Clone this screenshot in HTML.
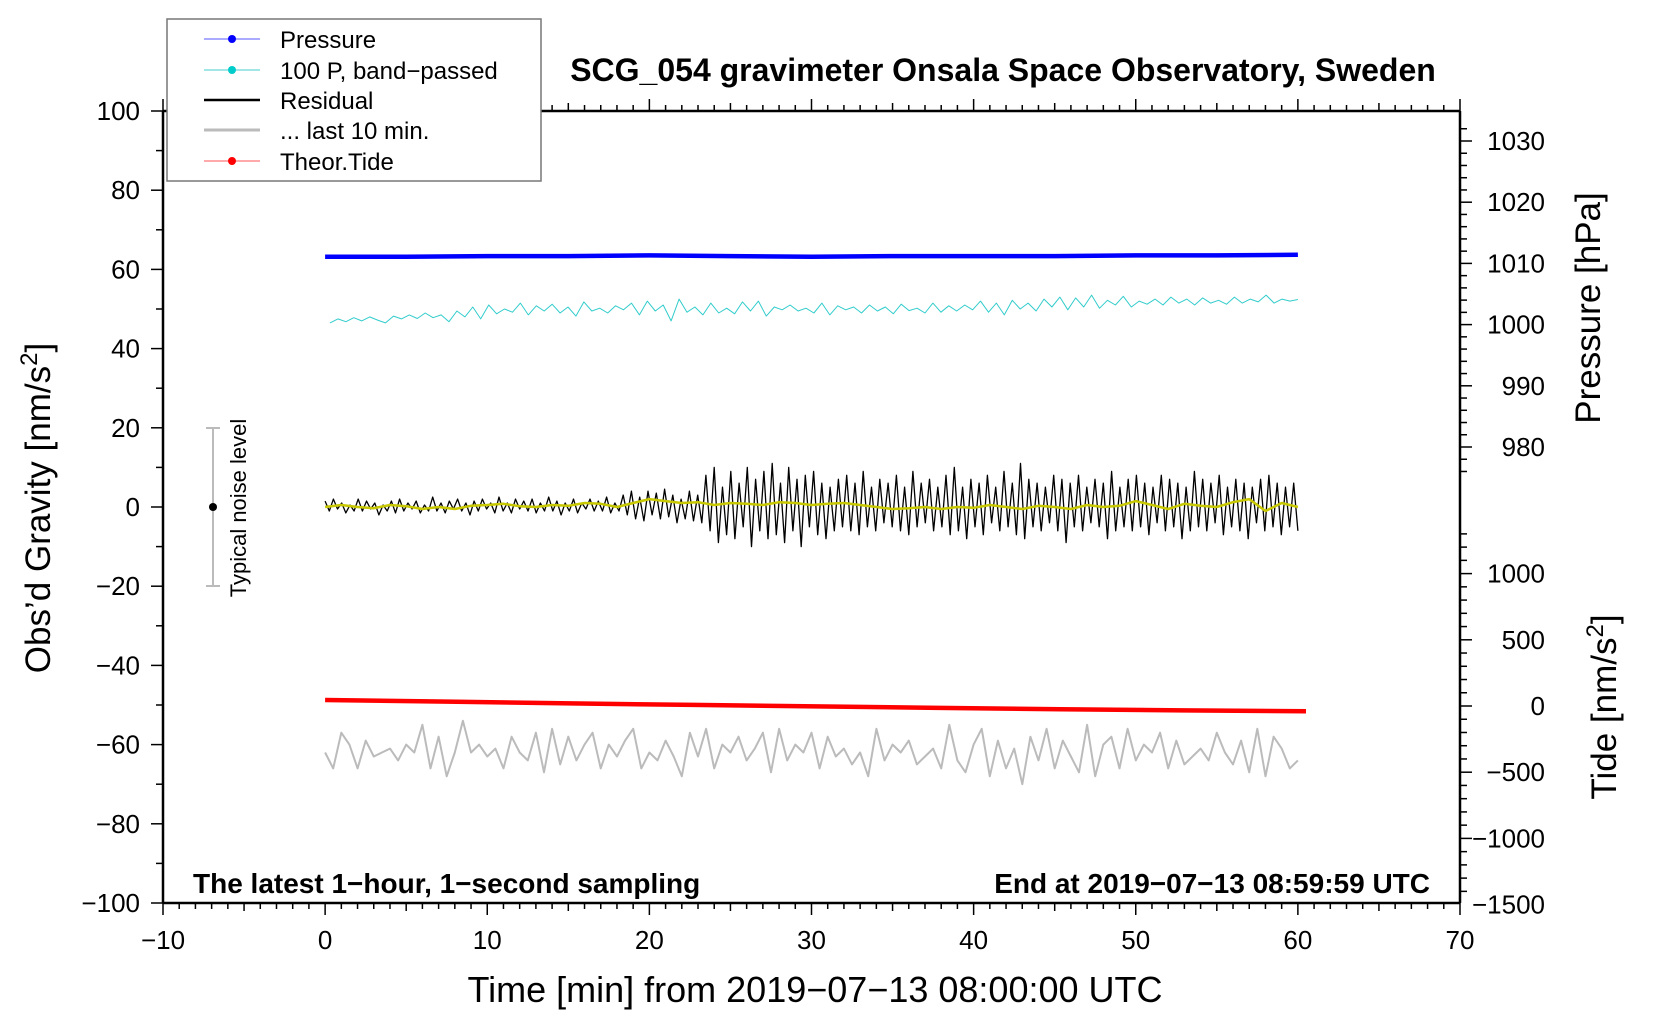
<!DOCTYPE html>
<html><head><meta charset="utf-8"><style>
html,body{margin:0;padding:0;background:#fff;}
svg{display:block;font-family:"Liberation Sans",sans-serif;}
</style></head><body>
<svg id="chart" width="1660" height="1020" viewBox="0 0 1660 1020">
<rect width="1660" height="1020" fill="#fff"/>
<g id="axes"></g>
<g id="series"></g>
<text x="1003" y="81" font-size="32" font-weight="bold" text-anchor="middle">SCG_054 gravimeter Onsala Space Observatory, Sweden</text>
<text x="193" y="893" font-size="28" font-weight="bold">The latest 1−hour, 1−second sampling</text>
<text x="1430" y="893" font-size="28" font-weight="bold" text-anchor="end">End at 2019−07−13 08:59:59 UTC</text>
<text x="815" y="1002" font-size="36" text-anchor="middle">Time [min] from 2019−07−13 08:00:00 UTC</text>
<text transform="translate(50,508) rotate(-90)" font-size="35" text-anchor="middle">Obs’d Gravity [nm/s<tspan dy="-13" font-size="24">2</tspan><tspan dy="13">]</tspan></text>
<text transform="translate(1600,308) rotate(-90)" font-size="35" text-anchor="middle">Pressure [hPa]</text>
<text transform="translate(1616,707) rotate(-90)" font-size="35" text-anchor="middle">Tide [nm/s<tspan dy="-13" font-size="24">2</tspan><tspan dy="13">]</tspan></text>
<g>
<line x1="213" y1="428" x2="213" y2="586" stroke="#bbb" stroke-width="2"/>
<line x1="206" y1="428" x2="220" y2="428" stroke="#bbb" stroke-width="2"/>
<line x1="206" y1="586" x2="220" y2="586" stroke="#bbb" stroke-width="2"/>
<circle cx="213" cy="507" r="4" fill="#000"/>
<text transform="translate(246,508) rotate(-90)" font-size="22" text-anchor="middle">Typical noise level</text>
</g>
<g>
<rect x="167" y="19" width="374" height="162" fill="#fff" stroke="#777" stroke-width="1.5"/>
<g><line x1="204" y1="39" x2="260" y2="39" stroke="#55f" stroke-width="1"/><circle cx="232" cy="39" r="4" fill="#00f"/><text x="280" y="48" font-size="24">Pressure</text></g>
<g><line x1="204" y1="70" x2="260" y2="70" stroke="#4cc" stroke-width="1"/><circle cx="232" cy="70" r="4" fill="#0cc"/><text x="280" y="79" font-size="24">100 P, band−passed</text></g>
<g><line x1="204" y1="100" x2="260" y2="100" stroke="#000" stroke-width="2.5"/><text x="280" y="109" font-size="24">Residual</text></g>
<g><line x1="204" y1="130" x2="260" y2="130" stroke="#bbb" stroke-width="3"/><text x="280" y="139" font-size="24">... last 10 min.</text></g>
<g><line x1="204" y1="161" x2="260" y2="161" stroke="#f55" stroke-width="1"/><circle cx="232" cy="161" r="4" fill="#f00"/><text x="280" y="170" font-size="24">Theor.Tide</text></g>
</g>
</svg>
<script>
const pressure=[1011.1,1011.1,1011.2,1011.2,1011.3,1011.2,1011.1,1011.2,1011.2,1011.2,1011.3,1011.3,1011.4];
const bandpassed=[46.5,47.5,46.8,47.8,47,48,47.2,46.5,48.2,47.5,48.5,47.6,49,47.8,48.5,46.8,49.5,48,50.5,47.5,51,48.8,50,49.2,51.5,48.5,50.8,49.5,51.2,49,50.5,48.2,51.8,49.5,50.2,49,50.8,49.8,51.5,48.5,52,49.5,51,47,52.5,49.2,50.5,48.5,51.5,49,50.2,48.8,51.8,49.5,52,48.2,50.5,49.8,51,49.5,50.2,49,51.5,48.5,50.8,49.8,50.5,49,51,49.5,50.5,48.8,51.2,49.6,50.2,49,51.5,49.2,50.8,49.5,51,49.8,52,49.2,51.5,48.5,52.2,50,51.5,49.5,52.5,50.5,53,49.8,52.8,50.5,53.5,50.2,52.2,51,53.2,50.5,52,51.2,52.5,51,53,51.5,52.5,51,52.8,51.5,52.2,51.2,53,51.5,52.5,51.8,53.5,51.5,52.5,52,52.4];
const residual=[1.5,-1,2,-0.5,1,-1.5,0.5,-1,2,-1,1.5,-0.5,1,-2,0.5,-1,1.5,-1.5,2,-1,1,-0.5,1.5,-1.5,0.5,-1,2.5,-1,1,-1.5,1.5,-0.5,2,-1,1,-2,1.5,-1,2,-0.5,1,-1.5,2.5,-1,1,-1.5,2,-0.5,1.5,-1,2,-1.5,1,-1,2.5,-1,1.5,-2,1,-1,2,-1.5,1,-0.5,2,-1,1.5,-1,2.5,-1.5,1,-1,
3,-2,4,-3,2.5,-3.5,4,-2,3.5,-3,4.5,-2.5,3,-4,2,-3,4,-3.5,3,-4,
8,-6,10,-9,5,-7,9,-8,6,-5,10,-10,7,-6,9,-8,11,-7,6,-9,10,-6,7,-10,8,-5,9,-7,6,-8,5,-6,7,-5,8,-6,6,-7,9,-5,5,-6,7,-4,6,-5,8,-6,5,-7,9,-5,6,-4,7,-6,5,-5,8,-7,10,-6,5,-8,7,-5,6,-7,8,-4,5,-6,9,-5,6,-7,11,-8,7,-5,6,-6,5,-4,8,-6,7,-9,6,-5,8,-6,5,-4,7,-5,6,-8,9,-6,5,-5,7,-6,8,-5,6,-7,5,-4,8,-6,7,-5,6,-8,5,-6,9,-5,7,-6,6,-4,8,-7,5,-5,7,-6,6,-8,5,-4,7,-6,8,-5,6,-7,5,-5,6,-6];
const smoothed=[0,0.5,0,-0.3,0.5,0.2,-0.5,0,-0.5,0.3,0.5,0.8,0.2,0,0.5,0.3,1,0.8,0,1,2,1.5,1,1.2,0.5,1,0.8,0.5,1.2,1,0.5,0.8,1,0.5,0,-0.5,-0.3,0,-0.5,0,-0.2,0.5,0,-0.5,0.3,0,-0.5,0.5,0,0.3,1.5,0.5,-0.5,0.8,0.3,0,1.2,2,-1,1,0];
const lastTen=[-62,-66,-57,-60,-66,-59,-63,-62,-61,-64,-60,-62,-55,-66,-58,-68,-62,-54,-62,-60,-63,-61,-66,-58,-62,-64,-57,-67,-56,-65,-58,-64,-60,-57,-66,-60,-63,-59,-56,-66,-62,-64,-59,-63,-68,-57,-63,-56,-66,-60,-62,-58,-64,-61,-57,-67,-56,-64,-60,-62,-57,-66,-58,-63,-61,-65,-62,-68,-56,-64,-60,-62,-59,-65,-63,-61,-66,-55,-64,-67,-60,-56,-68,-59,-66,-61,-70,-58,-64,-56,-66,-59,-63,-67,-55,-68,-60,-58,-66,-56,-64,-60,-62,-57,-66,-59,-65,-63,-61,-64,-57,-62,-65,-59,-67,-56,-68,-58,-61,-66,-64];
const tide=[45,33,20,8,-3,-14,-24,-33,-40];
const xTicks=[-10,0,10,20,30,40,50,60,70];
const yTicks=[100,80,60,40,20,0,-20,-40,-60,-80,-100];
const pTicks=[1030,1020,1010,1000,990,980];
const tTicks=[1000,500,0,-500,-1000,-1500];

const L=163,R=1460,T=111,B=903;
const X=t=>L+(t+10)*(R-L)/80, YL=v=>T+(100-v)*3.96, YP=p=>141+(1030-p)*6.12, YT=v=>706-v*0.1324;
const NS='http://www.w3.org/2000/svg';
const ax=document.getElementById('axes'), se=document.getElementById('series');
function mk(tag,attrs,parent){const e=document.createElementNS(NS,tag);for(const k in attrs)e.setAttribute(k,attrs[k]);parent.appendChild(e);return e;}
function ln(x1,y1,x2,y2,w,parent){return mk('line',{x1,y1,x2,y2,stroke:'#000','stroke-width':w},parent);}
let f=ln(L,T,L,B,2.5,ax);
f=ln(L,B,R,B,2.5,ax);
f=ln(L,T,R,T,2.5,ax);
f=ln(R,T,R,B,2.5,ax);
for(let m=-10;m<=70;m++){const x=X(m);const len=m%10===0?12:(m%5===0?8:6);ln(x,B,x,B+len,1.5,ax);ln(x,T,x,T-len,1.5,ax);}
xTicks.forEach(v=>{const t=mk('text',{x:X(v),y:949,'font-size':26,'text-anchor':'middle'},ax);t.textContent=String(v).replace('-','−');

});
for(let v=-100;v<=100;v+=10){const y=YL(v);ln(L-(v%20===0?12:7),y,L,y,1.5,ax);}
yTicks.forEach(v=>{const t=mk('text',{x:140,y:YL(v)+9,'font-size':26,'text-anchor':'end'},ax);t.textContent=String(v).replace('-','−');

});
for(let p=1032;p>=976;p-=2){const y=YP(p);if(y<T||y>B)continue;ln(R,y,R+(p%10===0?12:7),y,1.5,ax);}
pTicks.forEach(v=>{const t=mk('text',{x:1545,y:YP(v)+9,'font-size':26,'text-anchor':'end'},ax);t.textContent=v;

});
for(let v=1300;v>=-1500;v-=100){const y=YT(v);if(y<T||y>B)continue;ln(R,y,R+(v%500===0?12:7),y,1.5,ax);}
tTicks.forEach(v=>{const t=mk('text',{x:1545,y:YT(v)+9,'font-size':26,'text-anchor':'end'},ax);t.textContent=String(v).replace('-','−');

});
function path(arr,t0,t1,yf,color,w,name){const n=arr.length;const d=arr.map((v,i)=>(i?'L':'M')+X(t0+(t1-t0)*i/(n-1)).toFixed(1)+','+yf(v).toFixed(1)).join('');
const p=mk('path',{d,fill:'none',stroke:color,'stroke-width':w,'stroke-linejoin':'round'},se);

return p;}
path(pressure,0,60,YP,'#00f',4.5,'pressure-line');
path(bandpassed,0.3,60,YL,'#3cc',1,'bandpassed-pressure-line');
path(residual,0,60,YL,'#000',1.3,'residual-line');
path(smoothed,0,60,YL,'#c8c800',2.5,'residual-smoothed-line');
path(tide,0,60.5,YT,'#f00',4.5,'theor-tide-line');
path(lastTen,0,60,YL,'#bbb',2,'last-10-min-line');
</script>
</body></html>
